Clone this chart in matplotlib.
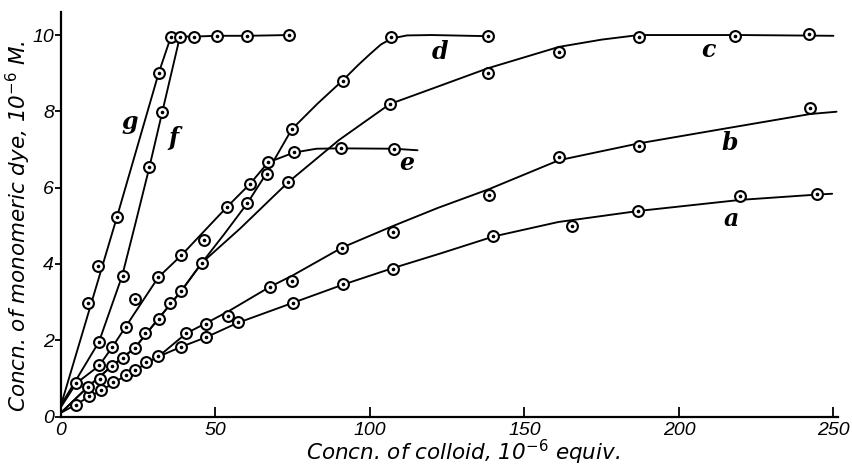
import matplotlib
matplotlib.use("Agg")
import matplotlib.pyplot as plt

# ---------------- data ----------------
# curve a (lowest); first 8 points shared with curve b
a_x = [4.9, 9.2, 12.9, 16.9, 20.9, 23.9, 27.5, 31.5, 38.8, 46.8, 57.3, 75.1, 91.3, 107.3, 139.8, 165.5, 186.9, 219.6, 244.6]
a_y = [0.30, 0.54, 0.69, 0.90, 1.10, 1.21, 1.42, 1.58, 1.83, 2.08, 2.47, 2.98, 3.47, 3.88, 4.73, 4.99, 5.39, 5.78, 5.83]
a_line_x = [0, 5, 9, 13, 17, 21, 24, 27.5, 31.5, 39, 47, 57, 75, 91, 107, 123, 140, 161, 187, 220, 245, 249.6]
a_line_y = [0.1, 0.32, 0.52, 0.68, 0.88, 1.08, 1.2, 1.4, 1.57, 1.83, 2.08, 2.45, 2.98, 3.45, 3.88, 4.28, 4.72, 5.1, 5.39, 5.68, 5.82, 5.84]

# curve b
b_x = [40.6, 46.8, 54.1, 67.6, 74.9, 90.8, 107.3, 138.5, 161.2, 187.0, 242.5]
b_y = [2.18, 2.42, 2.64, 3.40, 3.55, 4.43, 4.85, 5.82, 6.81, 7.10, 8.08]
b_line_x = [31.5, 40.5, 47, 54, 67.6, 75, 91, 107, 122, 138.5, 161.2, 187, 215, 242.5, 251]
b_line_y = [1.57, 2.18, 2.45, 2.75, 3.4, 3.7, 4.43, 4.98, 5.47, 5.96, 6.72, 7.16, 7.55, 7.93, 7.99]

# points shared by curves c and d
cd_x = [8.6, 12.6, 16.4, 20.2, 23.8, 27.2, 31.6, 35.4, 39.0, 45.6]
cd_y = [0.77, 0.99, 1.32, 1.54, 1.79, 2.18, 2.57, 2.97, 3.30, 4.03]

# curve c
c_x = [73.5, 106.4, 138.2, 161.2, 187.0, 218.3, 242.0]
c_y = [6.14, 8.19, 9.01, 9.56, 9.96, 9.98, 10.02]
c_line_x = [0, 8.6, 16.4, 23.8, 31.6, 39, 45.6, 58, 73.5, 90, 106.4, 122, 138.2, 161.2, 175, 187, 220, 250]
c_line_y = [0.1, 0.77, 1.32, 1.79, 2.57, 3.30, 4.03, 4.93, 6.14, 7.25, 8.19, 8.65, 9.13, 9.69, 9.88, 10.0, 10.0, 9.98]

# curve d
d_x = [60.3, 66.7, 74.7, 91.3, 106.9, 138.2]
d_y = [5.59, 6.37, 7.53, 8.80, 9.94, 9.97]
d_line_x = [0, 8.6, 16.4, 23.8, 31.6, 39, 45.6, 53, 60.3, 66.7, 74.7, 83, 91.3, 96, 100, 103.5, 107, 112, 120, 138.2]
d_line_y = [0.1, 0.77, 1.32, 1.79, 2.57, 3.30, 4.03, 4.8, 5.59, 6.4, 7.53, 8.2, 8.82, 9.2, 9.5, 9.75, 9.91, 9.99, 10.0, 9.97]

# curve e
e_x = [4.9, 12.3, 16.6, 20.9, 23.9, 31.5, 39.0, 46.2, 53.8, 61.2, 67.0, 75.4, 90.6, 107.8]
e_y = [0.87, 1.34, 1.82, 2.35, 3.09, 3.65, 4.23, 4.64, 5.50, 6.10, 6.66, 6.93, 7.03, 7.01]
e_line_x = [0, 4.9, 12.3, 16.6, 20.9, 31.5, 39, 53.8, 61.2, 67, 75.4, 82.7, 90.6, 107.8, 115.4]
e_line_y = [0.25, 0.87, 1.33, 1.82, 2.35, 3.65, 4.23, 5.50, 6.10, 6.66, 6.92, 7.02, 7.03, 7.02, 6.98]

# curve f
f_x = [12.3, 20.0, 28.5, 32.8]
f_y = [1.96, 3.68, 6.55, 7.99]
f_line_x = [0, 12.3, 19.8, 23.9, 28.5, 32.8, 38.5]
f_line_y = [0.3, 1.96, 3.69, 5.0, 6.5, 7.99, 9.96]

# curve g
g_x = [8.8, 11.9, 18.0, 31.6]
g_y = [2.98, 3.95, 5.22, 9.01]
g_line_x = [0, 18.0, 31.6, 35.6]
g_line_y = [0.3, 5.2, 9.0, 9.96]

# common plateau of f and g
fg_x = [35.6, 38.5, 43.1, 50.4, 60.3, 73.8]
fg_y = [9.96, 9.96, 9.96, 9.98, 9.98, 10.0]

curve_labels = ["a", "b", "c", "d", "e", "f", "g"]
label_x = [216.9, 216.4, 209.4, 122.6, 111.8, 36.3, 22.3]
label_y = [5.19, 7.16, 9.61, 9.56, 6.64, 7.29, 7.73]

x_ticks = [0, 50, 100, 150, 200, 250]
y_ticks = [0, 2, 4, 6, 8, 10]

# ---------------- drawing ----------------
TICKFONT = "Liberation Sans"
LABELFONT = "DejaVu Sans"

fig = plt.figure(figsize=(8.53, 4.67), dpi=100)
ax = fig.add_axes([0.0715, 0.108, 0.911, 0.866])

LW = 1.35
for lx, ly in [(a_line_x, a_line_y), (b_line_x, b_line_y), (c_line_x, c_line_y),
               (d_line_x, d_line_y), (e_line_x, e_line_y), (f_line_x, f_line_y),
               (g_line_x, g_line_y), (fg_x, fg_y)]:
    ax.plot(lx, ly, color="black", lw=LW, solid_capstyle="round",
            solid_joinstyle="round", zorder=2, clip_on=False)

for px, py in [(a_x, a_y), (b_x, b_y), (cd_x, cd_y), (c_x, c_y), (d_x, d_y),
               (e_x, e_y), (f_x, f_y), (g_x, g_y), (fg_x, fg_y)]:
    ax.plot(px, py, linestyle="none", marker="o", ms=7.8, mfc="white", mec="black",
            mew=1.5, zorder=3, clip_on=False)
    ax.plot(px, py, linestyle="none", marker="o", ms=1.6, mfc="black", mec="black",
            zorder=4, clip_on=False)

for t, x, y in zip(curve_labels, label_x, label_y):
    ax.text(x, y, t, family="DejaVu Serif", style="italic", weight="bold",
            fontsize=17, ha="center", va="center")

ax.set_xlim(0, 251.5)
ax.set_ylim(0, 10.6)
ax.set_xticks(x_ticks)
ax.set_yticks(y_ticks)
ax.set_xticklabels([str(v) for v in x_ticks], family=TICKFONT, style="italic", fontsize=14)
ax.set_yticklabels([str(v) for v in y_ticks], family=TICKFONT, style="italic", fontsize=14)
ax.tick_params(axis="x", direction="in", length=7, width=1.3, pad=4)
ax.tick_params(axis="y", direction="out", length=4, width=1.3, pad=1)

for s in ["top", "right"]:
    ax.spines[s].set_visible(False)
for s in ["left", "bottom"]:
    ax.spines[s].set_linewidth(1.6)

ax.set_xlabel("Concn. of colloid, 10$^{-6}$ equiv.", family=LABELFONT, style="italic",
              fontsize=15.5)
ax.set_ylabel("Concn. of monomeric dye, 10$^{-6}$ M.", family=LABELFONT, style="italic",
              fontsize=15.5)
ax.xaxis.set_label_coords(0.517, -0.052)
ax.yaxis.set_label_coords(-0.036, 0.47)

fig.savefig("out.png", dpi=100)
